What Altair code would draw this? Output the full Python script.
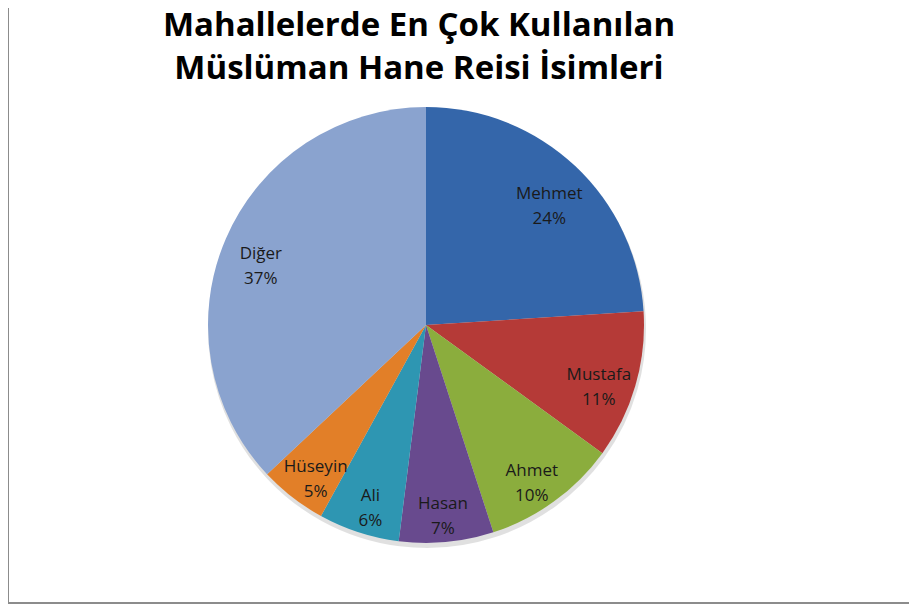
import altair as alt
import pandas as pd

names = ["Mehmet", "Mustafa", "Ahmet", "Hasan", "Ali", "Hüseyin", "Diğer"]
shares = [24, 11, 10, 7, 6, 5, 37]
colors = ["#3466AA", "#B53A37", "#8BAD3D", "#684A8E", "#2E96B2", "#E27F28", "#8AA3CF"]
title_lines = ["Mahallelerde En Çok Kullanılan", "Müslüman Hane Reisi İsimleri"]

df = pd.DataFrame({"name": names, "share": shares, "order": list(range(len(names)))})
df["label"] = df["name"] + "\n" + df["share"].astype(str) + "%"

W, H = 901, 596
CX, CY, R = 418, 317, 218

base = alt.Chart(df).encode(
    theta=alt.Theta("share:Q", stack=True),
    order=alt.Order("order:Q"),
)

shadow = base.mark_arc(radius=R + 1, color="#000000", opacity=0.12).encode(
    x=alt.value(CX + 1), y=alt.value(CY + 4)
)

pie = base.mark_arc(radius=R).encode(
    x=alt.value(CX), y=alt.value(CY),
    color=alt.Color("name:N", scale=alt.Scale(domain=names, range=colors), legend=None),
)

labels = base.mark_text(
    radius=180, font="Open Sans", fontSize=17, color="#1a1a1a",
    lineBreak="\n", lineHeight=25, align="center", baseline="middle"
).encode(
    x=alt.value(CX), y=alt.value(CY),
    text="label:N",
)

tdf = pd.DataFrame({"t": title_lines, "i": [0, 1]})
title = alt.Chart(tdf).mark_text(
    font="Open Sans", fontSize=33, fontWeight="bold", color="#000000",
    align="center", baseline="alphabetic"
).encode(
    x=alt.value(411),
    y=alt.Y("i:Q", scale=alt.Scale(domain=[0, 1], range=[28, 71]), axis=None),
    text="t:N",
)

border = alt.Chart(pd.DataFrame({"k": [0]})).mark_rule(color="#8c8c8c", strokeWidth=2).encode(
    x=alt.value(0), y=alt.value(0), y2=alt.value(H - 1)
)
border2 = alt.Chart(pd.DataFrame({"k": [0]})).mark_rule(color="#8c8c8c", strokeWidth=2).encode(
    x=alt.value(0), x2=alt.value(W), y=alt.value(H - 1)
)

chart = alt.layer(shadow, pie, labels, title, border, border2).properties(
    width=W, height=H, padding=0, background="#ffffff",
    autosize=alt.AutoSizeParams(type="none")
).configure_view(strokeWidth=0, stroke="transparent")

chart.save("out.html", embed_options={"renderer": "svg", "actions": False})
